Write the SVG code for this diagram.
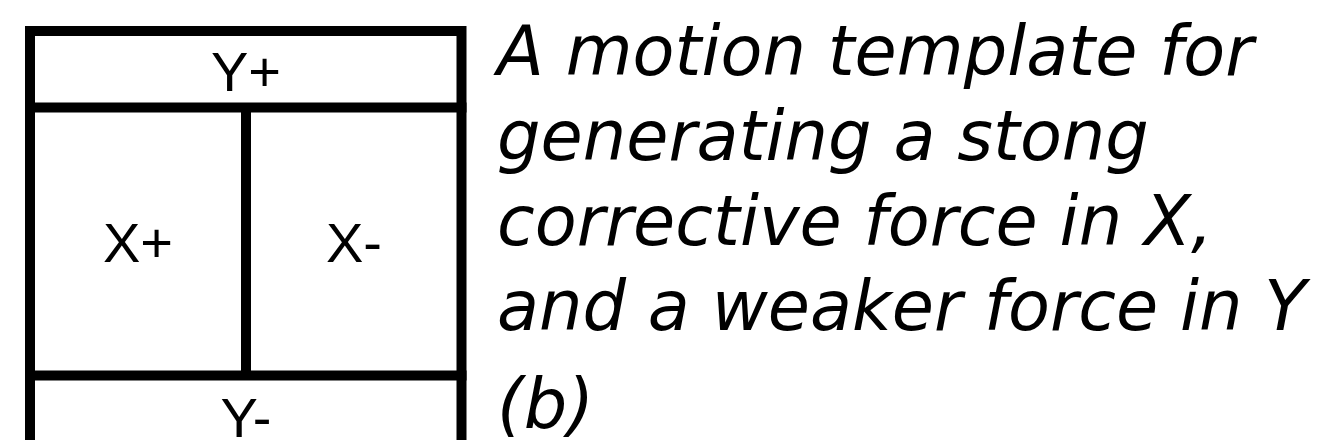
<svg xmlns="http://www.w3.org/2000/svg" width="1318" height="440" viewBox="0 0 1318 440">
<style>
.ln{stroke:#000;stroke-width:10;fill:none}
.lbl{font-family:"Liberation Sans",Arial,sans-serif;font-size:56px;fill:#000;text-anchor:middle}
.cap{font-family:"DejaVu Sans",sans-serif;font-style:italic;font-size:68.6px;fill:#000}
</style>
<rect width="1318" height="440" fill="#fff"/>
<g id="frame">
<path class="ln" d="M30,460 V31 H461.5 V460"/>
</g>
<g id="yplus">
<line class="ln" x1="25" y1="107.5" x2="466.5" y2="107.5"/>
<text class="lbl" x="246" y="91">Y+</text>
</g>
<g id="xplus">
<text class="lbl" x="138" y="262">X+</text>
</g>
<g id="xminus">
<line class="ln" x1="246" y1="107.5" x2="246" y2="375.5"/>
<text class="lbl" x="354" y="262">X-</text>
</g>
<g id="yminus">
<line class="ln" x1="25" y1="375.5" x2="466.5" y2="375.5"/>
<text class="lbl" x="246" y="437">Y-</text>
</g>
<g id="caption">
<text class="cap" x="497" y="75">A motion template for</text>
<text class="cap" x="497" y="160">generating a stong</text>
<text class="cap" x="497" y="245">corrective force in X,</text>
<text class="cap" x="497" y="330">and a weaker force in Y</text>
<text class="cap" x="497" y="428">(b)</text>
</g>
<g id="connectors"></g>
</svg>
